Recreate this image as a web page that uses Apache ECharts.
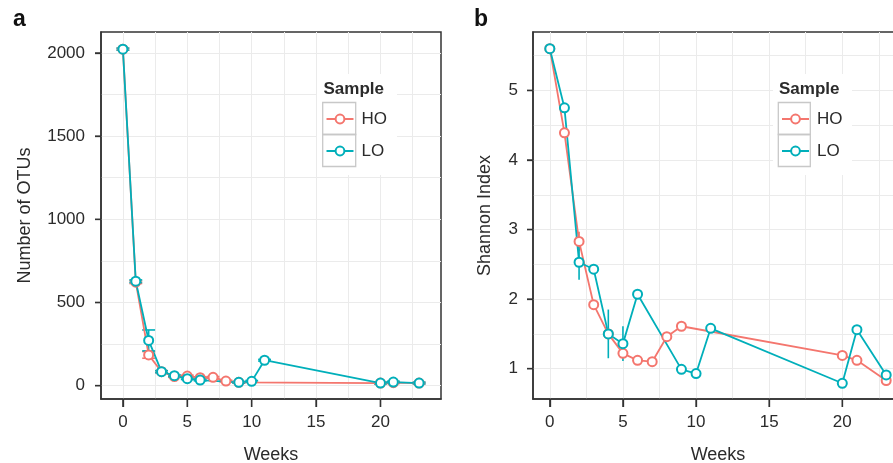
<!DOCTYPE html>
<html><head><meta charset="utf-8">
<script src="https://cdn.jsdelivr.net/npm/echarts@6/dist/echarts.min.js"></script>
<style>html,body{margin:0;padding:0;background:#fff}#c{width:893px;height:463px}</style>
</head><body><div id="c"></div>
<script>
// ---- data ----
const weeksHO = [0, 1, 2, 3, 4, 5, 6, 7, 8, 9, 20, 21, 23];
const weeksLO = [0, 1, 2, 3, 4, 5, 6, 9, 10, 11, 20, 21, 23];
const otuHO    = [2023, 622, 185, 84, 55, 58, 48, 50, 28, 20, 16, 18, 16];
const otuHOerr = [6, 8, 20, 6, 5, 5, 5, 5, 5, 5, 5, 5, 5];
const otuLO    = [2023, 628, 272, 84, 60, 42, 34, 20, 26, 153, 16, 22, 16];
const otuLOerr = [6, 8, 63, 6, 5, 5, 5, 5, 5, 5, 5, 5, 5];
const shHO    = [5.60, 4.39, 2.83, 1.92, 1.50, 1.22, 1.12, 1.10, 1.46, 1.61, 1.19, 1.12, 0.83];
const shHOerr = [0.02, 0.02, 0.14, 0.03, 0.03, 0.03, 0.05, 0.03, 0.03, 0.03, 0.03, 0.03, 0.03];
const shLO    = [5.60, 4.75, 2.53, 2.43, 1.50, 1.36, 2.07, 0.99, 0.93, 1.58, 0.79, 1.56, 0.91];
const shLOerr = [0.02, 0.03, 0.25, 0.03, 0.35, 0.25, 0.03, 0.03, 0.03, 0.03, 0.03, 0.03, 0.03];
const xTicks = [0, 5, 10, 15, 20];
const xMinor = [2.5, 7.5, 12.5, 17.5, 22.5];
const otuTicks = [0, 500, 1000, 1500, 2000];
const otuMinor = [250, 750, 1250, 1750];
const shTicks = [1, 2, 3, 4, 5];
const shMinor = [1.5, 2.5, 3.5, 4.5, 5.5];
const seriesNames = ['HO', 'LO'];

// ---- style ----
const FONT = '"Liberation Sans", Arial, Helvetica, sans-serif';
const C_HO = '#F4766E';
const C_LO = '#00AFBA';
const GRIDC = '#ebebeb';
const TXT = '#2b2b2b';
const AX = '#333';

function pairs(xs, ys) { return xs.map((x, i) => [x, ys[i]]); }

function lineSeries(name, xs, ys, idx, color) {
  return {
    type: 'line', name: name, xAxisIndex: idx, yAxisIndex: idx,
    data: pairs(xs, ys), symbol: 'emptyCircle', symbolSize: 9,
    lineStyle: { color: color, width: 1.8 },
    itemStyle: { color: color, borderColor: color, borderWidth: 1.4 },
    emphasis: { disabled: true }, z: 4, clip: false
  };
}

function errSeries(name, xs, ys, es, capHalf, idx, color) {
  return {
    type: 'custom', name: name, xAxisIndex: idx, yAxisIndex: idx, z: 3, silent: true,
    data: xs.map((x, i) => [x, ys[i] - es[i], ys[i] + es[i]]),
    encode: { x: 0, y: [1, 2] },
    renderItem: function (params, api) {
      const x = api.value(0), lo = api.value(1), hi = api.value(2);
      const p1 = api.coord([x, lo]), p2 = api.coord([x, hi]);
      const st = { stroke: color, lineWidth: 1.6 };
      const ch = [{ type: 'line', shape: { x1: p1[0], y1: p1[1], x2: p2[0], y2: p2[1] }, style: st }];
      if (capHalf > 0) {
        const w = api.size([capHalf, 0])[0];
        ch.push({ type: 'line', shape: { x1: p1[0] - w, y1: p1[1], x2: p1[0] + w, y2: p1[1] }, style: st });
        ch.push({ type: 'line', shape: { x1: p2[0] - w, y1: p2[1], x2: p2[0] + w, y2: p2[1] }, style: st });
      }
      return { type: 'group', children: ch };
    }
  };
}

// outward axis tick marks, placed through the axes' own scales
function tickSeries(idx, xr, yr, xt, yt) {
  const data = xt.map(v => [v, yr[0], 0]).concat(yt.map(v => [xr[0], v, 1]));
  return {
    type: 'custom', name: 'ticks-' + idx, xAxisIndex: idx, yAxisIndex: idx, z: 6, silent: true, clip: false,
    data: data, encode: { x: 0, y: 1 },
    renderItem: function (params, api) {
      const p = api.coord([api.value(0), api.value(1)]);
      const isX = api.value(2) === 0;
      const shape = isX ? { x1: p[0], y1: p[1], x2: p[0], y2: p[1] + 8 }
                        : { x1: p[0] - 6, y1: p[1], x2: p[0], y2: p[1] };
      return { type: 'line', shape: shape, style: { stroke: AX, lineWidth: 1.4 } };
    }
  };
}

const fmt = function (v) { return String(v); };

function xAxis(idx, min, max) {
  return {
    type: 'value', gridIndex: idx, min: min, max: max,
    axisLine: { show: true, onZero: false, lineStyle: { color: AX, width: 1.5 } },
    axisTick: { show: true, length: 8, customValues: xTicks, lineStyle: { color: AX, width: 1.3 } },
    axisLabel: { customValues: xTicks, formatter: fmt, fontSize: 17, color: TXT, margin: 15, fontFamily: FONT },
    splitLine: { show: true, lineStyle: { color: GRIDC, width: 1 } },
    name: 'Weeks', nameLocation: 'middle', nameGap: 47,
    nameTextStyle: { fontSize: 18, color: TXT, fontFamily: FONT }
  };
}

function yAxis(idx, min, max, ticks, name, gap, margin) {
  return {
    type: 'value', gridIndex: idx, min: min, max: max,
    axisLine: { show: true, onZero: false, lineStyle: { color: AX, width: 1.5 } },
    axisTick: { show: true, length: 6, customValues: ticks, lineStyle: { color: AX, width: 1.3 } },
    axisLabel: { customValues: ticks, formatter: fmt, fontSize: 17, color: TXT, margin: margin, fontFamily: FONT },
    splitLine: { show: true, lineStyle: { color: GRIDC, width: 1 } },
    name: name, nameLocation: 'middle', nameGap: gap,
    nameTextStyle: { fontSize: 18, color: TXT, fontFamily: FONT }
  };
}

// hidden axes that only carry the minor grid lines
function minorAxis(idx, min, max, vals) {
  return {
    type: 'value', gridIndex: idx, min: min, max: max,
    axisLine: { show: false, onZero: false },
    axisTick: { show: false, customValues: vals },
    axisLabel: { show: false, customValues: vals },
    splitLine: { show: true, lineStyle: { color: GRIDC, width: 1 } }
  };
}

function legend(left) {
  return {
    data: seriesNames, orient: 'vertical', left: left, top: 110, padding: 0,
    itemWidth: 27, itemHeight: 11, itemGap: 14, selectedMode: false,
    textStyle: { fontSize: 17, color: TXT, fontFamily: FONT, lineHeight: 18, padding: [0, 0, 0, 3] }
  };
}

function legendDeco(bgX, bgW, titleX, keyX, keyW) {
  return [
    { type: 'rect', z: 3, shape: { x: bgX, y: 74, width: bgW, height: 101 }, style: { fill: '#fff' } },
    { type: 'text', z: 5, x: titleX, y: 89.5, style: { text: 'Sample', font: 'bold 17px ' + FONT, fill: TXT, verticalAlign: 'middle' } },
    { type: 'rect', z: 5, shape: { x: keyX, y: 102.5, width: keyW, height: 32 }, style: { fill: 'none', stroke: '#c8c8c8', lineWidth: 1.3 } },
    { type: 'rect', z: 5, shape: { x: keyX, y: 134.5, width: keyW, height: 32 }, style: { fill: 'none', stroke: '#c8c8c8', lineWidth: 1.3 } }
  ];
}

const XA = [-1.7, 24.7], XB = [-1.15, 24.15], YA = [-80, 2126], YB = [0.564, 5.84];

const option = {
  animation: false,
  backgroundColor: '#fff',
  grid: [
    { left: 101, top: 32, right: 452, bottom: 64, show: true, borderColor: AX, borderWidth: 1.5, backgroundColor: 'transparent', outerBoundsMode: 'none', containLabel: false },
    { left: 533, top: 32, right: -10, bottom: 64, show: true, borderColor: AX, borderWidth: 1.5, backgroundColor: 'transparent', outerBoundsMode: 'none', containLabel: false }
  ],
  xAxis: [
    xAxis(0, XA[0], XA[1]), xAxis(1, XB[0], XB[1]),
    minorAxis(0, XA[0], XA[1], xMinor), minorAxis(1, XB[0], XB[1], xMinor)
  ],
  yAxis: [
    yAxis(0, YA[0], YA[1], otuTicks, 'Number of OTUs', 67, 16),
    yAxis(1, YB[0], YB[1], shTicks, 'Shannon Index', 39, 15),
    minorAxis(0, YA[0], YA[1], otuMinor), minorAxis(1, YB[0], YB[1], shMinor)
  ],
  legend: [legend(325.5), legend(781)],
  graphic: [
    { type: 'text', z: 5, x: 13, y: 8, style: { text: 'a', font: 'bold 23px ' + FONT, fill: '#111' } },
    { type: 'text', z: 5, x: 474, y: 8, style: { text: 'b', font: 'bold 23px ' + FONT, fill: '#111' } }
  ].concat(legendDeco(317, 80, 323.5, 322.7, 33)).concat(legendDeco(773, 79, 779, 778.3, 32)),
  series: [
    lineSeries('HO', weeksHO, otuHO, 0, C_HO),
    lineSeries('LO', weeksLO, otuLO, 0, C_LO),
    lineSeries('HO', weeksHO, shHO, 1, C_HO),
    lineSeries('LO', weeksLO, shLO, 1, C_LO),
    errSeries('HO-err-a', weeksHO, otuHO, otuHOerr, 0.5, 0, C_HO),
    errSeries('LO-err-a', weeksLO, otuLO, otuLOerr, 0.5, 0, C_LO),
    errSeries('HO-err-b', weeksHO, shHO, shHOerr, 0, 1, C_HO),
    errSeries('LO-err-b', weeksLO, shLO, shLOerr, 0, 1, C_LO),
    tickSeries(0, XA, YA, xTicks, otuTicks),
    tickSeries(1, XB, YB, xTicks, shTicks)
  ]
};
const chart = echarts.init(document.getElementById('c'), null, { renderer: 'canvas' });
chart.setOption(option);
</script></body></html>
